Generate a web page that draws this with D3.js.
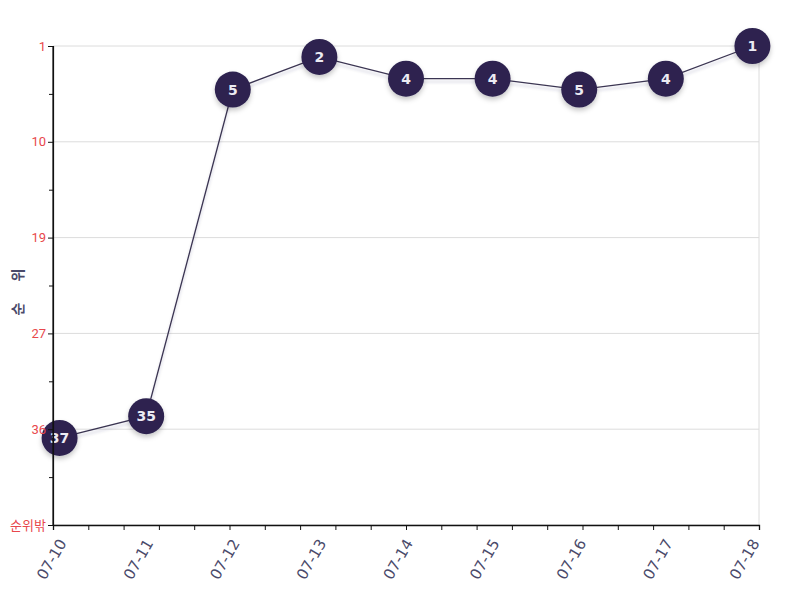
<!DOCTYPE html>
<html>
<head>
<meta charset="utf-8">
<script src="https://cdn.jsdelivr.net/npm/d3@7"></script>
<style>
  html, body { margin: 0; padding: 0; background: #fff; }
  svg { display: block; }
  text { font-family: "Roboto", "Noto Sans CJK KR", sans-serif; }
</style>
</head>
<body>
<svg id="chart" width="787" height="599"></svg>
<script>
// ---- data ----
const dates = ["07-10","07-11","07-12","07-13","07-14","07-15","07-16","07-17","07-18"];
const ranks = [37, 35, 5, 2, 4, 4, 5, 4, 1];
const rankMin = 1;
const rankMax = 45;          // bottom of axis = "순위밖"
const outLabel = "순위밖";
const yTitle = "순 위";

// ---- layout ----
const W = 787, H = 599;
const m = { left: 53, right: 28, top: 46, bottom: 74 };
const svg = d3.select("#chart");

const x = d3.scalePoint().domain(dates).range([m.left, W - m.right]).padding(0.076);
const y = d3.scaleLinear().domain([rankMin, rankMax]).range([m.top, H - m.bottom]);

const nMajor = 5;
const majorTicks = d3.range(nMajor + 1).map(i => rankMin + (rankMax - rankMin) * i / nMajor);
const minorTicks = d3.range(nMajor).map(i => rankMin + (rankMax - rankMin) * (i + 0.5) / nMajor);

const defs = svg.append("defs");
const f = defs.append("filter").attr("id", "shadow").attr("x", "-50%").attr("y", "-50%").attr("width", "200%").attr("height", "200%");
f.append("feDropShadow").attr("dx", 0).attr("dy", 3).attr("stdDeviation", 2.5).attr("flood-color", "#000").attr("flood-opacity", 0.22);
const fl = defs.append("filter").attr("id", "lshadow").attr("x", "-10%").attr("y", "-10%").attr("width", "120%").attr("height", "120%");
fl.append("feDropShadow").attr("dx", 0).attr("dy", 3).attr("stdDeviation", 1.5).attr("flood-color", "#2d2450").attr("flood-opacity", 0.2);

// grid
svg.append("g").selectAll("line").data(majorTicks).join("line")
  .attr("x1", m.left).attr("x2", W - m.right)
  .attr("y1", d => y(d)).attr("y2", d => y(d))
  .attr("stroke", "#dcdcdc").attr("stroke-width", 1);
svg.append("line")
  .attr("x1", W - m.right).attr("x2", W - m.right)
  .attr("y1", y(rankMin)).attr("y2", y(rankMax))
  .attr("stroke", "#dcdcdc").attr("stroke-width", 1);

// line
const line = d3.line().x((d, i) => x(dates[i])).y(d => y(d));
svg.append("path").datum(ranks)
  .attr("d", line).attr("fill", "none")
  .attr("stroke", "#3b3552").attr("stroke-width", 1.3)
  .attr("filter", "url(#lshadow)");

// points
const pts = svg.append("g").selectAll("g").data(ranks).join("g")
  .attr("transform", (d, i) => `translate(${x(dates[i])},${y(d)})`);
pts.append("circle").attr("r", 18).attr("fill", "#2d2450").attr("filter", "url(#shadow)");
pts.append("text").text(d => d)
  .attr("text-anchor", "middle").attr("dy", "0.36em")
  .attr("fill", "#ecebf3").attr("font-size", 14).attr("font-weight", "bold")
  .style("font-family", "'DejaVu Sans', sans-serif");

// y axis
const yAxis = svg.append("g").attr("transform", `translate(${m.left},0)`)
  .call(d3.axisLeft(y).tickValues(majorTicks).tickSize(5).tickPadding(2)
    .tickFormat((d, i) => i === nMajor ? outLabel : Math.round(d)));
yAxis.select(".domain").attr("stroke", "#111").attr("stroke-width", 1.2);
yAxis.selectAll(".tick line").attr("stroke", "#111");
yAxis.selectAll(".tick text").attr("fill", "#e8474c").attr("font-size", 13)
  .style("font-family", "Roboto, 'Noto Sans CJK KR', sans-serif");
const yMinor = svg.append("g").attr("transform", `translate(${m.left},0)`)
  .call(d3.axisLeft(y).tickValues(minorTicks).tickSize(4).tickFormat(""));
yMinor.select(".domain").remove();
yMinor.selectAll(".tick line").attr("stroke", "#111");

// x axis (minor ticks)
const xt = d3.scaleLinear().domain([0, 20]).range([m.left, W - m.right]);
const xAxis = svg.append("g").attr("transform", `translate(0,${H - m.bottom})`)
  .call(d3.axisBottom(xt).ticks(20).tickSize(5).tickFormat(""));
xAxis.select(".domain").attr("stroke", "#111").attr("stroke-width", 1.3);
xAxis.selectAll(".tick line").attr("stroke", "#111");

// x labels
const xLab = svg.append("g").attr("transform", `translate(0,${H - m.bottom})`)
  .call(d3.axisBottom(x).tickSize(0).tickPadding(0));
xLab.select(".domain").remove();
xLab.selectAll(".tick text")
  .attr("text-anchor", "end").attr("y", 0).attr("dy", 0)
  .attr("transform", "translate(7,18) rotate(-60)")
  .attr("fill", "#4a4a6a").attr("font-size", 15)
  .style("font-family", "'DejaVu Sans', sans-serif");

// y title
svg.append("text").text(yTitle)
  .attr("transform", `translate(23,${(y(rankMin) + y(rankMax)) / 2 + 2}) rotate(-90)`)
  .attr("text-anchor", "middle").attr("fill", "#4a4a6a")
  .attr("font-size", 14).attr("font-weight", "bold")
  .attr("letter-spacing", 9)
  .style("font-family", "'Noto Sans CJK KR', sans-serif");

// redraw y axis line on top of first circle
svg.append("line").attr("x1", m.left).attr("x2", m.left)
  .attr("y1", y(rankMin)).attr("y2", y(rankMax))
  .attr("stroke", "#111").attr("stroke-width", 1.2);
</script>
</body>
</html>
